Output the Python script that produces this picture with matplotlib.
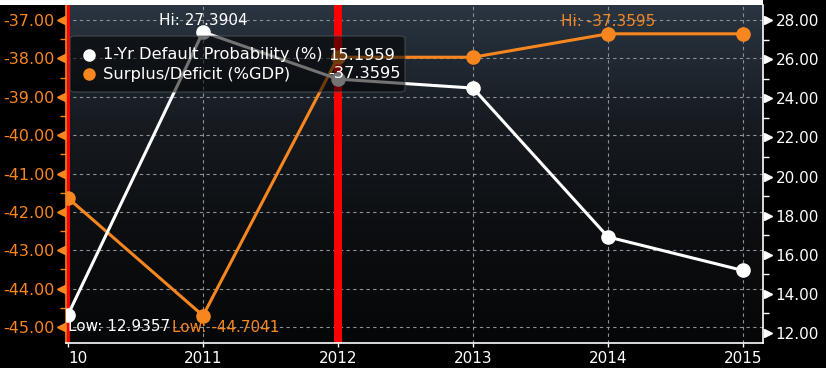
import numpy as np
import matplotlib
matplotlib.use("Agg")
import matplotlib.pyplot as plt
import matplotlib.transforms as mtransforms
from matplotlib.patches import FancyBboxPatch, Rectangle
from matplotlib.colors import LinearSegmentedColormap

# ---------------------------------------------------------------------------
# Data
# ---------------------------------------------------------------------------
years = [2010, 2011, 2012, 2013, 2014, 2015]
year_labels = ["10", "2011", "2012", "2013", "2014", "2015"]
default_prob = [12.9357, 27.3904, 24.98, 24.52, 16.91, 15.1959]   # right axis
surplus = [-41.64, -44.7041, -37.97, -37.97, -37.3595, -37.3595]  # left axis
left_ticks = [-37, -38, -39, -40, -41, -42, -43, -44, -45]
right_ticks = [12, 14, 16, 18, 20, 22, 24, 26, 28]
red_markers = [2010, 2012]

ORANGE = "#f7861f"
WHITE = "#ffffff"
GRID = "#8c9197"
FONT = 11

W, H = 826, 368
fig = plt.figure(figsize=(W / 100, H / 100), dpi=100, facecolor="black")
L, R, T, B = 66, 763, 5, 343
ax = fig.add_axes([L / W, (H - B) / H, (R - L) / W, (B - T) / H])
ax2 = ax.twinx()
ax2.patch.set_visible(False)

ax.set_xlim(2010 - 2 / 135, 2015 + 20 / 135)
ax.set_ylim(-45.417, -36.609)
ax2.set_ylim(11.489, 28.767)

# gradient background
cmap = LinearSegmentedColormap.from_list(
    "bg", ["#060708", "#0c0e11", "#171c22", "#2a3541"])
grad = np.linspace(0, 1, 256).reshape(-1, 1)
ax.imshow(grad, cmap=cmap, aspect="auto", origin="lower",
          extent=[0, 1, 0, 1], transform=ax.transAxes, zorder=0)

# grid
for x in years:
    ax.axvline(x, color=GRID, lw=0.8, ls=(0, (3, 3)), zorder=1)
for y in left_ticks:
    ax.axhline(y, color=GRID, lw=0.8, ls=(0, (3, 3)), zorder=1)

# red event lines
ax.axvline(red_markers[0], color="#ff0000", lw=2.2, zorder=2)
ax.axvline(red_markers[1], color="#ff0000", lw=5.8, zorder=2)

# series
ax.plot(years, surplus, color=ORANGE, lw=2.2, marker="o", ms=9.5, zorder=5)
ax2.plot(years, default_prob, color=WHITE, lw=2.2, marker="o", ms=9.5, zorder=5)

# spines
ax.spines["top"].set_visible(False)
ax2.spines["top"].set_visible(False)
ax.spines["left"].set_color(ORANGE)
ax.spines["left"].set_linewidth(1.2)
ax.spines["bottom"].set_color(WHITE)
ax.spines["bottom"].set_linewidth(1.2)
ax2.spines["right"].set_color(WHITE)
ax2.spines["right"].set_linewidth(1.2)
ax2.spines["left"].set_visible(False)
ax2.spines["bottom"].set_visible(False)
ax.spines["right"].set_visible(False)

# x axis
ax.set_xticks(years)
ax.set_xticklabels(year_labels, fontsize=FONT, color=WHITE)
ax.get_xticklabels()[0].set_ha("left")
ax.tick_params(axis="x", colors=WHITE, length=3, width=1, pad=3)

# left axis
ax.set_yticks(left_ticks)
ax.set_yticklabels([f"{v:.2f}" for v in left_ticks], fontsize=FONT + 0.5, color=ORANGE)
ax.set_yticks([v + 0.5 for v in left_ticks[1:]], minor=True)
ax.tick_params(axis="y", which="major", length=0, pad=8, colors=ORANGE)
ax.tick_params(axis="y", which="minor", length=4, width=1, colors=ORANGE)

# right axis
ax2.set_yticks(right_ticks)
ax2.set_yticklabels([f"{v:.2f}" for v in right_ticks], fontsize=FONT, color=WHITE)
ax2.set_yticks([v + 1 for v in right_ticks[:-1]], minor=True)
ax2.tick_params(axis="y", which="major", length=0, pad=9, colors=WHITE)
ax2.tick_params(axis="y", which="minor", length=4, width=1, colors=WHITE)

# triangle tick markers
tl = mtransforms.offset_copy(
    mtransforms.blended_transform_factory(ax.transAxes, ax.transData),
    fig=fig, x=-5, y=0, units="dots")
ax.plot([0] * len(left_ticks), left_ticks, ls="none", marker="<", ms=6,
        color=ORANGE, transform=tl, clip_on=False, zorder=6)
tr = mtransforms.offset_copy(
    mtransforms.blended_transform_factory(ax2.transAxes, ax2.transData),
    fig=fig, x=5, y=0, units="dots")
ax2.plot([1] * len(right_ticks), right_ticks, ls="none", marker=">", ms=6,
         color=WHITE, transform=tr, clip_on=False, zorder=6)

# hi / low annotations
i_hi_w = int(np.argmax(default_prob))
i_lo_w = int(np.argmin(default_prob))
i_hi_o = int(np.argmax(surplus))
i_lo_o = int(np.argmin(surplus))
ax2.annotate(f"Hi: {default_prob[i_hi_w]:.4f}", (years[i_hi_w], default_prob[i_hi_w]),
             xytext=(0, 11), textcoords="offset pixels", ha="center", va="center",
             fontsize=FONT, color=WHITE, zorder=8)
ax2.annotate(f"Low: {default_prob[i_lo_w]:.4f}", (years[i_lo_w], default_prob[i_lo_w]),
             xytext=(0, -12), textcoords="offset pixels", ha="left", va="center",
             fontsize=FONT, color=WHITE, zorder=8)
ax.annotate(f"Hi: {surplus[i_hi_o]:.4f}", (years[i_hi_o], surplus[i_hi_o]),
            xytext=(0, 12), textcoords="offset pixels", ha="center", va="center",
            fontsize=FONT, color=ORANGE, zorder=8)
ax.annotate(f"Low: {surplus[i_lo_o]:.4f}", (years[i_lo_o], surplus[i_lo_o]),
            xytext=(-31, -12), textcoords="offset pixels", ha="left", va="center",
            fontsize=FONT, color=ORANGE, zorder=8)

# legend box
def px(x, y):
    return ((x - L) / (R - L), (B - y) / (B - T))

x0, y0 = px(70, 92)
x1, y1 = px(405, 36)
box = FancyBboxPatch((x0, y0), x1 - x0, y1 - y0, transform=ax2.transAxes,
                     boxstyle="round,pad=0,rounding_size=0.008",
                     facecolor="black", alpha=0.55, edgecolor="#555b62",
                     lw=1, zorder=9)
ax2.add_patch(box)
legend_rows = [("1-Yr Default Probability (%)", default_prob[-1], WHITE, 55),
               ("Surplus/Deficit (%GDP)", surplus[-1], ORANGE, 74)]
for label, val, col, ypix in legend_rows:
    mx, my = px(89, ypix)
    ax2.plot([mx], [my], marker="o", ms=8, color=col, transform=ax2.transAxes,
             clip_on=False, zorder=10)
    tx, _ = px(103, ypix)
    ax2.text(tx, my, label, transform=ax2.transAxes, fontsize=FONT + 0.7,
             color=WHITE, va="center", ha="left", zorder=10)
    vx, _ = px(328, ypix)
    ax2.text(vx, my, f"{val:.4f}", transform=ax2.transAxes, fontsize=FONT + 0.7,
             color=WHITE, va="center", ha="left", zorder=10)

# white strip at top
fig.patches.append(Rectangle((0, (H - T) / H), R / W, T / H, transform=fig.transFigure,
                             facecolor="white", edgecolor="none", zorder=0))

fig.savefig("out.png", dpi=100, facecolor="black")
